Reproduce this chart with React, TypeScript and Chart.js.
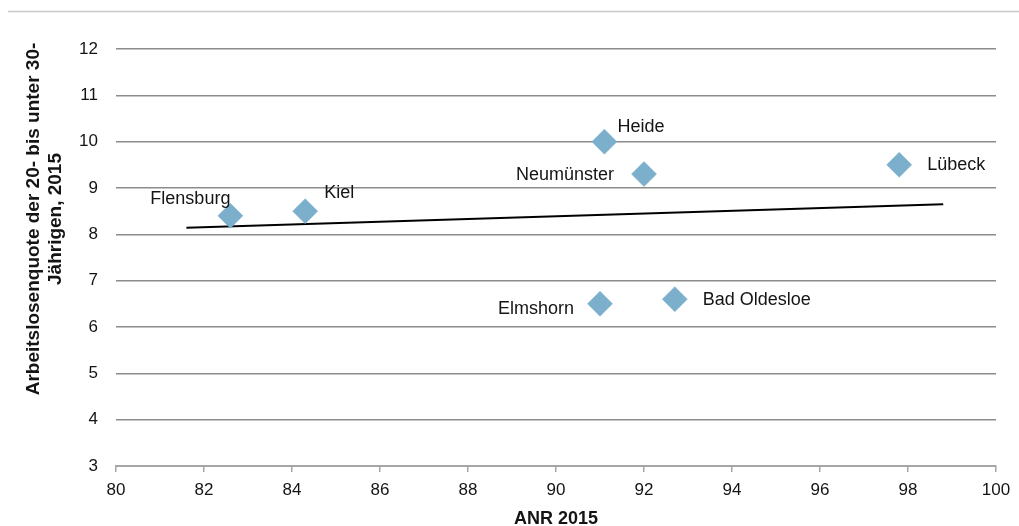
import React, { useEffect, useRef } from "react";
import { Chart, registerables } from "chart.js";

Chart.register(...registerables);

const cities = ["Flensburg", "Kiel", "Heide", "Neumünster", "Lübeck", "Elmshorn", "Bad Oldesloe"];
const anr2015 = [82.6, 84.3, 91.1, 92.0, 97.8, 91.0, 92.7];
const quote2015 = [8.4, 8.5, 10.0, 9.3, 9.5, 6.5, 6.6];
const trendX = [81.6, 98.8];
const trendY = [8.14, 8.65];
const xTitle = "ANR 2015";
const yTitleLines = ["Arbeitslosenquote der 20- bis unter 30-", "Jährigen, 2015"];

// label placement offsets (pixels from marker centre)
const labelDx = [0, 19, 13, -30, 28, -26, 28];
const labelDy = [-17, -18, -15, 1, 0, 5, 1];

const FONT = '"Liberation Sans", Arial, sans-serif';
const TEXT = "#141414";

export default function App() {
  const ref = useRef<HTMLCanvasElement | null>(null);

  useEffect(() => {
    if (!ref.current) return;
    const decor = {
      id: "decor",
      beforeDraw(chart: any) {
        const ctx = chart.ctx;
        ctx.save();
        ctx.fillStyle = "#ffffff";
        ctx.fillRect(0, 0, chart.width, chart.height);
        ctx.strokeStyle = "#c8c8c8";
        ctx.lineWidth = 1.5;
        ctx.beginPath();
        ctx.moveTo(8, 11.5);
        ctx.lineTo(chart.width, 11.5);
        ctx.stroke();
        ctx.restore();
      },
      afterDraw(chart: any) {
        const ctx = chart.ctx;
        const meta = chart.getDatasetMeta(0);
        ctx.save();
        ctx.fillStyle = TEXT;
        ctx.font = `18px ${FONT}`;
        ctx.textBaseline = "middle";
        meta.data.forEach((el: any, i: number) => {
          const dx = labelDx[i];
          ctx.textAlign = dx > 0 ? "left" : "right";
          ctx.fillText(cities[i], el.x + dx, el.y + labelDy[i]);
        });
        // axis titles
        ctx.font = `bold 18px ${FONT}`;
        ctx.textBaseline = "alphabetic";
        ctx.textAlign = "center";
        const ca = chart.chartArea;
        ctx.fillText(xTitle, (ca.left + ca.right) / 2, 524);
        ctx.font = `bold 19px ${FONT}`;
        ctx.translate(0, 219);
        ctx.rotate(-Math.PI / 2);
        ctx.fillText(yTitleLines[0], 0, 39);
        ctx.fillText(yTitleLines[1], 0, 61);
        ctx.restore();
      },
    };

    const chart = new Chart(ref.current, {
      type: "scatter",
      data: {
        datasets: [
          {
            label: "Städte",
            data: anr2015.map((x, i) => ({ x, y: quote2015[i] })),
            pointStyle: "rectRot",
            pointRadius: 12.5,
            pointHoverRadius: 12.5,
            backgroundColor: "#7bafcc",
            borderColor: "#7bafcc",
            borderWidth: 0.5,
            order: 1,
          },
          {
            label: "Trend",
            type: "line",
            data: trendX.map((x, i) => ({ x, y: trendY[i] })),
            showLine: true,
            pointRadius: 0,
            borderColor: "#000000",
            borderWidth: 2,
            fill: false,
            order: 2,
          } as any,
        ],
      },
      options: {
        responsive: false,
        animation: false,
        events: [],
        layout: { padding: { top: 49, right: 23, left: 0, bottom: 0 } },
        plugins: {
          legend: { display: false },
          tooltip: { enabled: false },
          title: { display: false },
        },
        scales: {
          x: {
            type: "linear",
            min: 80,
            max: 100,
            ticks: {
              stepSize: 2,
              color: TEXT,
              font: { family: FONT, size: 17 },
              padding: 8,
              maxRotation: 0,
            },
            grid: {
              drawOnChartArea: false,
              drawTicks: true,
              tickLength: 6,
              color: "#a6a6a6",
              lineWidth: 1.5,
            },
            border: { display: true, color: "#a6a6a6", width: 2 },
            afterFit(scale: any) {
              scale.height = 60;
            },
          },
          y: {
            type: "linear",
            min: 3,
            max: 12,
            ticks: {
              stepSize: 1,
              color: TEXT,
              font: { family: FONT, size: 17 },
              padding: 18,
            },
            grid: {
              color: (c: any) => (c.tick && c.tick.value === 3 ? "rgba(0,0,0,0)" : "#8c8c8c"),
              lineWidth: 1.5,
              drawTicks: false,
            },
            border: { display: false },
            afterFit(scale: any) {
              scale.width = 116;
            },
          },
        },
      },
      plugins: [decor],
    });
    return () => chart.destroy();
  }, []);

  return (
    <div style={{ position: "fixed", left: 0, top: 0, width: 1019, height: 526, background: "#fff" }}>
      <canvas ref={ref} width={1019} height={526} style={{ width: 1019, height: 526, display: "block" }} />
    </div>
  );
}
